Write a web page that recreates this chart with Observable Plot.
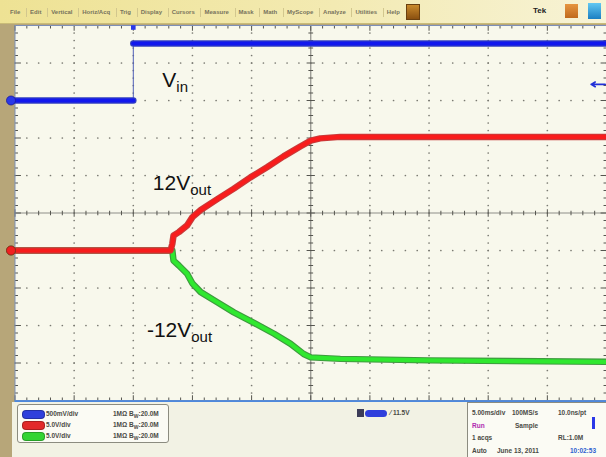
<!DOCTYPE html>
<html>
<head>
<meta charset="utf-8">
<script src="https://cdn.jsdelivr.net/npm/d3@7"></script>
<script src="https://cdn.jsdelivr.net/npm/@observablehq/plot@0.6"></script>
<style>
  html, body { margin: 0; padding: 0; background: #b7a679; }
  #wrap { position: relative; width: 606px; height: 457px; overflow: hidden; background: #b7a679; font-family: "Liberation Sans", Arial, sans-serif; }
  #plot { position: absolute; left: 0; top: 0; }
  #toolbar { position: absolute; left: 0; top: 0; width: 606px; height: 23px; background: linear-gradient(90deg, #eee294 0%, #f3eab2 55%, #f7f3d6 100%); border-bottom: 1px solid #c9bb78; }
  #menu { position: absolute; left: 7px; top: 7px; width: 393px; height: 10px; display: flex; justify-content: space-between; align-items: center; }
  #menu span { font-size: 6px; color: #77735c; font-weight: bold; line-height: 9px; padding-left: 3px; border-left: 1px solid #d2c78e; white-space: nowrap; }
  #menu span:first-child { border-left: none; }
  .btn { position: absolute; }
  #panel { position: absolute; left: 12px; top: 402px; width: 594px; height: 55px; background: #f2f2e4; }
  .box { position: absolute; background: #fbfbf4; border: 1px solid #8c8c80; border-radius: 3px; }
  .t { position: absolute; font-size: 6.5px; color: #4a4a44; font-weight: bold; white-space: nowrap; line-height: 8px; }
  .pill { position: absolute; width: 21px; height: 7px; border-radius: 4px; }
</style>
</head>
<body>
<div id="wrap">
  <div id="plot"></div>
  <div id="toolbar">
    <div id="menu"></div>
    <div class="btn" style="left:406px;top:4px;width:12px;height:14px;background:linear-gradient(#c98a2c,#8a5010);border:1px solid #6a4010;"></div>
    <div class="t" style="left:533px;top:7px;font-size:8px;color:#222;">Tek</div>
    <div class="btn" style="left:565px;top:4px;width:13px;height:14px;background:linear-gradient(#e69540,#c06a1c);"></div>
    <div class="btn" style="left:588px;top:3px;width:13px;height:16px;background:linear-gradient(#62c8f2,#1a7fc2);"></div>
  </div>
  <div id="panel"></div>
  <div class="box" style="left:17px;top:404px;width:150px;height:37px;"></div>
  <div id="chanRows"></div>
  <div class="btn" style="left:357px;top:409px;width:7px;height:8px;background:#3c3c58;"></div>
  <div class="pill" style="left:365px;top:410px;width:22px;background:#2f3fdc;"></div>
  <div class="t" id="trig" style="left:390px;top:409px;"></div>
  <div class="box" style="left:467px;top:402px;width:145px;height:60px;border-radius:0;"></div>
  <div id="acqRows"></div>
</div>
<script>
// ---- data (division units of the scope graticule) ----
const vinTime = [-5, -3, -3, 5];
const vinLevel = [3.0, 3.0, 4.52, 4.52];

const pos12Time  = [-5, -2.37, -2.34, -2.32, -2.23, -2.09, -2.00, -1.86, -1.58, -1.30, -1.02, -0.74, -0.46, -0.17, 0.00, 0.16, 0.50, 5];
const pos12Level = [-1.0, -1.0, -0.82, -0.60, -0.51, -0.33, -0.11, 0.08, 0.37, 0.65, 0.95, 1.22, 1.51, 1.78, 1.93, 1.99, 2.03, 2.03];

const neg12Time  = [-5, -2.34, -2.32, -2.23, -2.09, -2.00, -1.86, -1.58, -1.30, -0.96, -0.62, -0.34, -0.12, 0.00, 0.50, 2.0, 5];
const neg12Level = [-1.0, -1.0, -1.27, -1.40, -1.62, -1.88, -2.11, -2.38, -2.65, -2.93, -3.22, -3.49, -3.76, -3.85, -3.89, -3.93, -3.97];

const labelMain = ["V", "12V", "-12V"];
const labelSub  = ["in", "out", "out"];
const labelX    = [-2.51, -2.67, -2.77];
const labelY    = [3.53, 0.80, -3.13];

const triggerTime = -3;
const triggerLevel = 3.43;

const menuItems = ["File", "Edit", "Vertical", "Horiz/Acq", "Trig", "Display", "Cursors", "Measure", "Mask", "Math", "MyScope", "Analyze", "Utilities", "Help"];
const chanScale = ["500mV/div", "5.0V/div", "5.0V/div"];
const chanImp = ["1MΩ", "1MΩ", "1MΩ"];
const chanBw = ["20.0M", "20.0M", "20.0M"];
const chanColor = ["#2f3fdc", "#e22a2a", "#33d433"];
const triggerText = "⁄ 11.5V";
const acqRows = [
  ["5.00ms/div", "100MS/s", "10.0ns/pt"],
  ["Run", "Sample", ""],
  ["1 acqs", "", "RL:1.0M"],
  ["Auto", "June 13, 2011", "10:02:53"]
];

// ---- build tables ----
const toRows = (t, v, name) => t.map((x, i) => ({x, y: v[i], name}));
const vin = toRows(vinTime, vinLevel, "Vin");
const vinSegs = vin.map((d, i) => ({...d, seg: i < 2 ? 0 : 1}));
const pos12 = toRows(pos12Time, pos12Level, "+12");
const neg12 = toRows(neg12Time, neg12Level, "-12");
const labels = labelMain.map((m, i) => ({x: labelX[i], y: labelY[i], main: m, sub: labelSub[i]}));

// graticule structure
const minor = d3.range(-25, 26).map(i => i / 5);
const majors = d3.range(-4, 5).filter(k => k !== 0);
const gridDots = [];
for (const k of majors) for (const m of minor) { gridDots.push({x: k, y: m}); gridDots.push({x: m, y: k}); }
const isMajor = m => Math.abs(m - Math.round(m)) < 1e-9;
const vTicks = minor.map(m => ({x1: isMajor(m) ? -0.07 : -0.04, x2: isMajor(m) ? 0.07 : 0.04, y1: m, y2: m}));
const hTicks = minor.map(m => ({x1: m, x2: m, y1: isMajor(m) ? -0.1 : -0.06, y2: isMajor(m) ? 0.1 : 0.06}));
const edgeTicks = [];
for (const m of minor) {
  const lx = isMajor(m) ? 0.1 : 0.05, ly = isMajor(m) ? 0.14 : 0.08;
  edgeTicks.push({x1: -5, x2: -5 + lx, y1: m, y2: m});
  edgeTicks.push({x1: 5, x2: 5 - lx, y1: m, y2: m});
  edgeTicks.push({x1: m, x2: m, y1: -5, y2: -5 + ly});
  edgeTicks.push({x1: m, x2: m, y1: 5, y2: 5 - ly});
}

const chart = Plot.plot({
  width: 606,
  height: 457,
  marginLeft: 14.5,
  marginRight: 0,
  marginTop: 25,
  marginBottom: 57,
  x: {domain: [-5, 5], axis: null},
  y: {domain: [-5, 5], axis: null},
  style: {background: "transparent", overflow: "visible"},
  marks: [
    Plot.frame({fill: "#f8f8ec"}),
    Plot.dot(gridDots, {x: "x", y: "y", r: 0.85, fill: "#7a7a72", stroke: null}),
    Plot.ruleX([0], {stroke: "#8e8e88", strokeWidth: 1.2}),
    Plot.ruleY([0], {stroke: "#8e8e88", strokeWidth: 1.2}),
    Plot.link(vTicks, {x1: "x1", x2: "x2", y1: "y1", y2: "y2", stroke: "#55554f", strokeWidth: 1}),
    Plot.link(hTicks, {x1: "x1", x2: "x2", y1: "y1", y2: "y2", stroke: "#55554f", strokeWidth: 1}),
    Plot.link(edgeTicks, {x1: "x1", x2: "x2", y1: "y1", y2: "y2", stroke: "#55554f", strokeWidth: 1}),
    Plot.frame({stroke: "#7d8fb8", strokeWidth: 1}),
    Plot.ruleY([-5], {stroke: "#4d88dd", strokeWidth: 2.5, dy: 1}),
    // Vin
    Plot.line(vin, {x: "x", y: "y", stroke: "#5060b8", strokeWidth: 1}),
    Plot.line(vinSegs, {x: "x", y: "y", z: "seg", stroke: "#3440c0", strokeWidth: 6.5}),
    Plot.line(vinSegs, {x: "x", y: "y", z: "seg", stroke: "#1218ee", strokeWidth: 4.2}),
    // -12V
    Plot.line(neg12, {x: "x", y: "y", stroke: "#3e9a3e", strokeWidth: 6.5, strokeLinejoin: "round"}),
    Plot.line(neg12, {x: "x", y: "y", stroke: "#2fe82f", strokeWidth: 4.2, strokeLinejoin: "round"}),
    // +12V
    Plot.line(pos12, {x: "x", y: "y", stroke: "#c83a3a", strokeWidth: 6.5, strokeLinejoin: "round"}),
    Plot.line(pos12, {x: "x", y: "y", stroke: "#f81c1c", strokeWidth: 4.2, strokeLinejoin: "round"}),
    // channel markers
    Plot.dot([vin[0]], {x: "x", y: "y", dx: -4, r: 4.5, fill: "#2a38e8", stroke: "#1a1a9a", strokeWidth: 0.8}),
    Plot.dot([neg12[0]], {x: "x", y: "y", dx: -4, r: 4.5, fill: "#2fe82f", stroke: "#207a20", strokeWidth: 0.8}),
    Plot.dot([pos12[0]], {x: "x", y: "y", dx: -4, r: 4.5, fill: "#f02020", stroke: "#9a1a1a", strokeWidth: 0.8}),
    Plot.dot([triggerTime], {x: d => d, y: () => 5, dy: 2, symbol: "square", r: 2.6, fill: "#2a38e8"}),
    Plot.arrow([triggerLevel], {x1: () => 4.98, x2: () => 4.74, y1: d => d, y2: d => d, stroke: "#2230d8", strokeWidth: 1.6, headLength: 6}),
    // labels
    Plot.text(labels, {x: "x", y: "y", text: "main", textAnchor: "start", fontSize: 21, fill: "#111", fontFamily: "Liberation Sans, Arial, sans-serif"})
  ]
});
document.getElementById("plot").appendChild(chart);

// subscripts on the trace labels
d3.select(chart).selectAll('g[aria-label="text"] text').each(function(d, i) {
  d3.select(this).append("tspan").attr("font-size", 15).attr("dy", "5").text(labels[i].sub);
});

// toolbar menu
const menu = d3.select("#menu");
menuItems.forEach(m => menu.append("span").text(m));

// channel readouts
const cr = d3.select("#chanRows");
chanScale.forEach((s, i) => {
  const top = 410 + i * 11;
  cr.append("div").attr("class", "pill").style("left", "22px").style("top", top + "px").style("background", chanColor[i]).style("border", "1px solid rgba(0,0,0,0.25)");
  cr.append("div").attr("class", "t").style("left", "46px").style("top", (top - 0.5) + "px").text(s);
  const t = cr.append("div").attr("class", "t").style("left", "113px").style("top", (top - 0.5) + "px");
  t.append("span").text(chanImp[i] + " B");
  t.append("sub").style("font-size", "5px").text("W");
  t.append("span").text(":" + chanBw[i]);
});
d3.select("#trig").text(triggerText);

// acquisition readouts
const ar = d3.select("#acqRows");
const colX = [472, 512, 558];
acqRows.forEach((row, r) => {
  row.forEach((txt, c) => {
    if (!txt) return;
    let left = colX[c];
    if (r === 1 && c === 1) left = 515;
    if (r === 3 && c === 1) left = 497;
    if (r === 3 && c === 2) left = 570;
    const el = ar.append("div").attr("class", "t").style("left", left + "px").style("top", (409 + r * 12.5) + "px").text(txt);
    if (r === 1 && c === 0) el.style("color", "#b02ab0");
    if (r === 3 && c === 2) el.style("color", "#2f5fd0");
  });
});
ar.append("div").attr("class", "btn").style("left", "592px").style("top", "417px").style("width", "3px").style("height", "12px").style("background", "#2a38e8");
</script>
</body>
</html>
